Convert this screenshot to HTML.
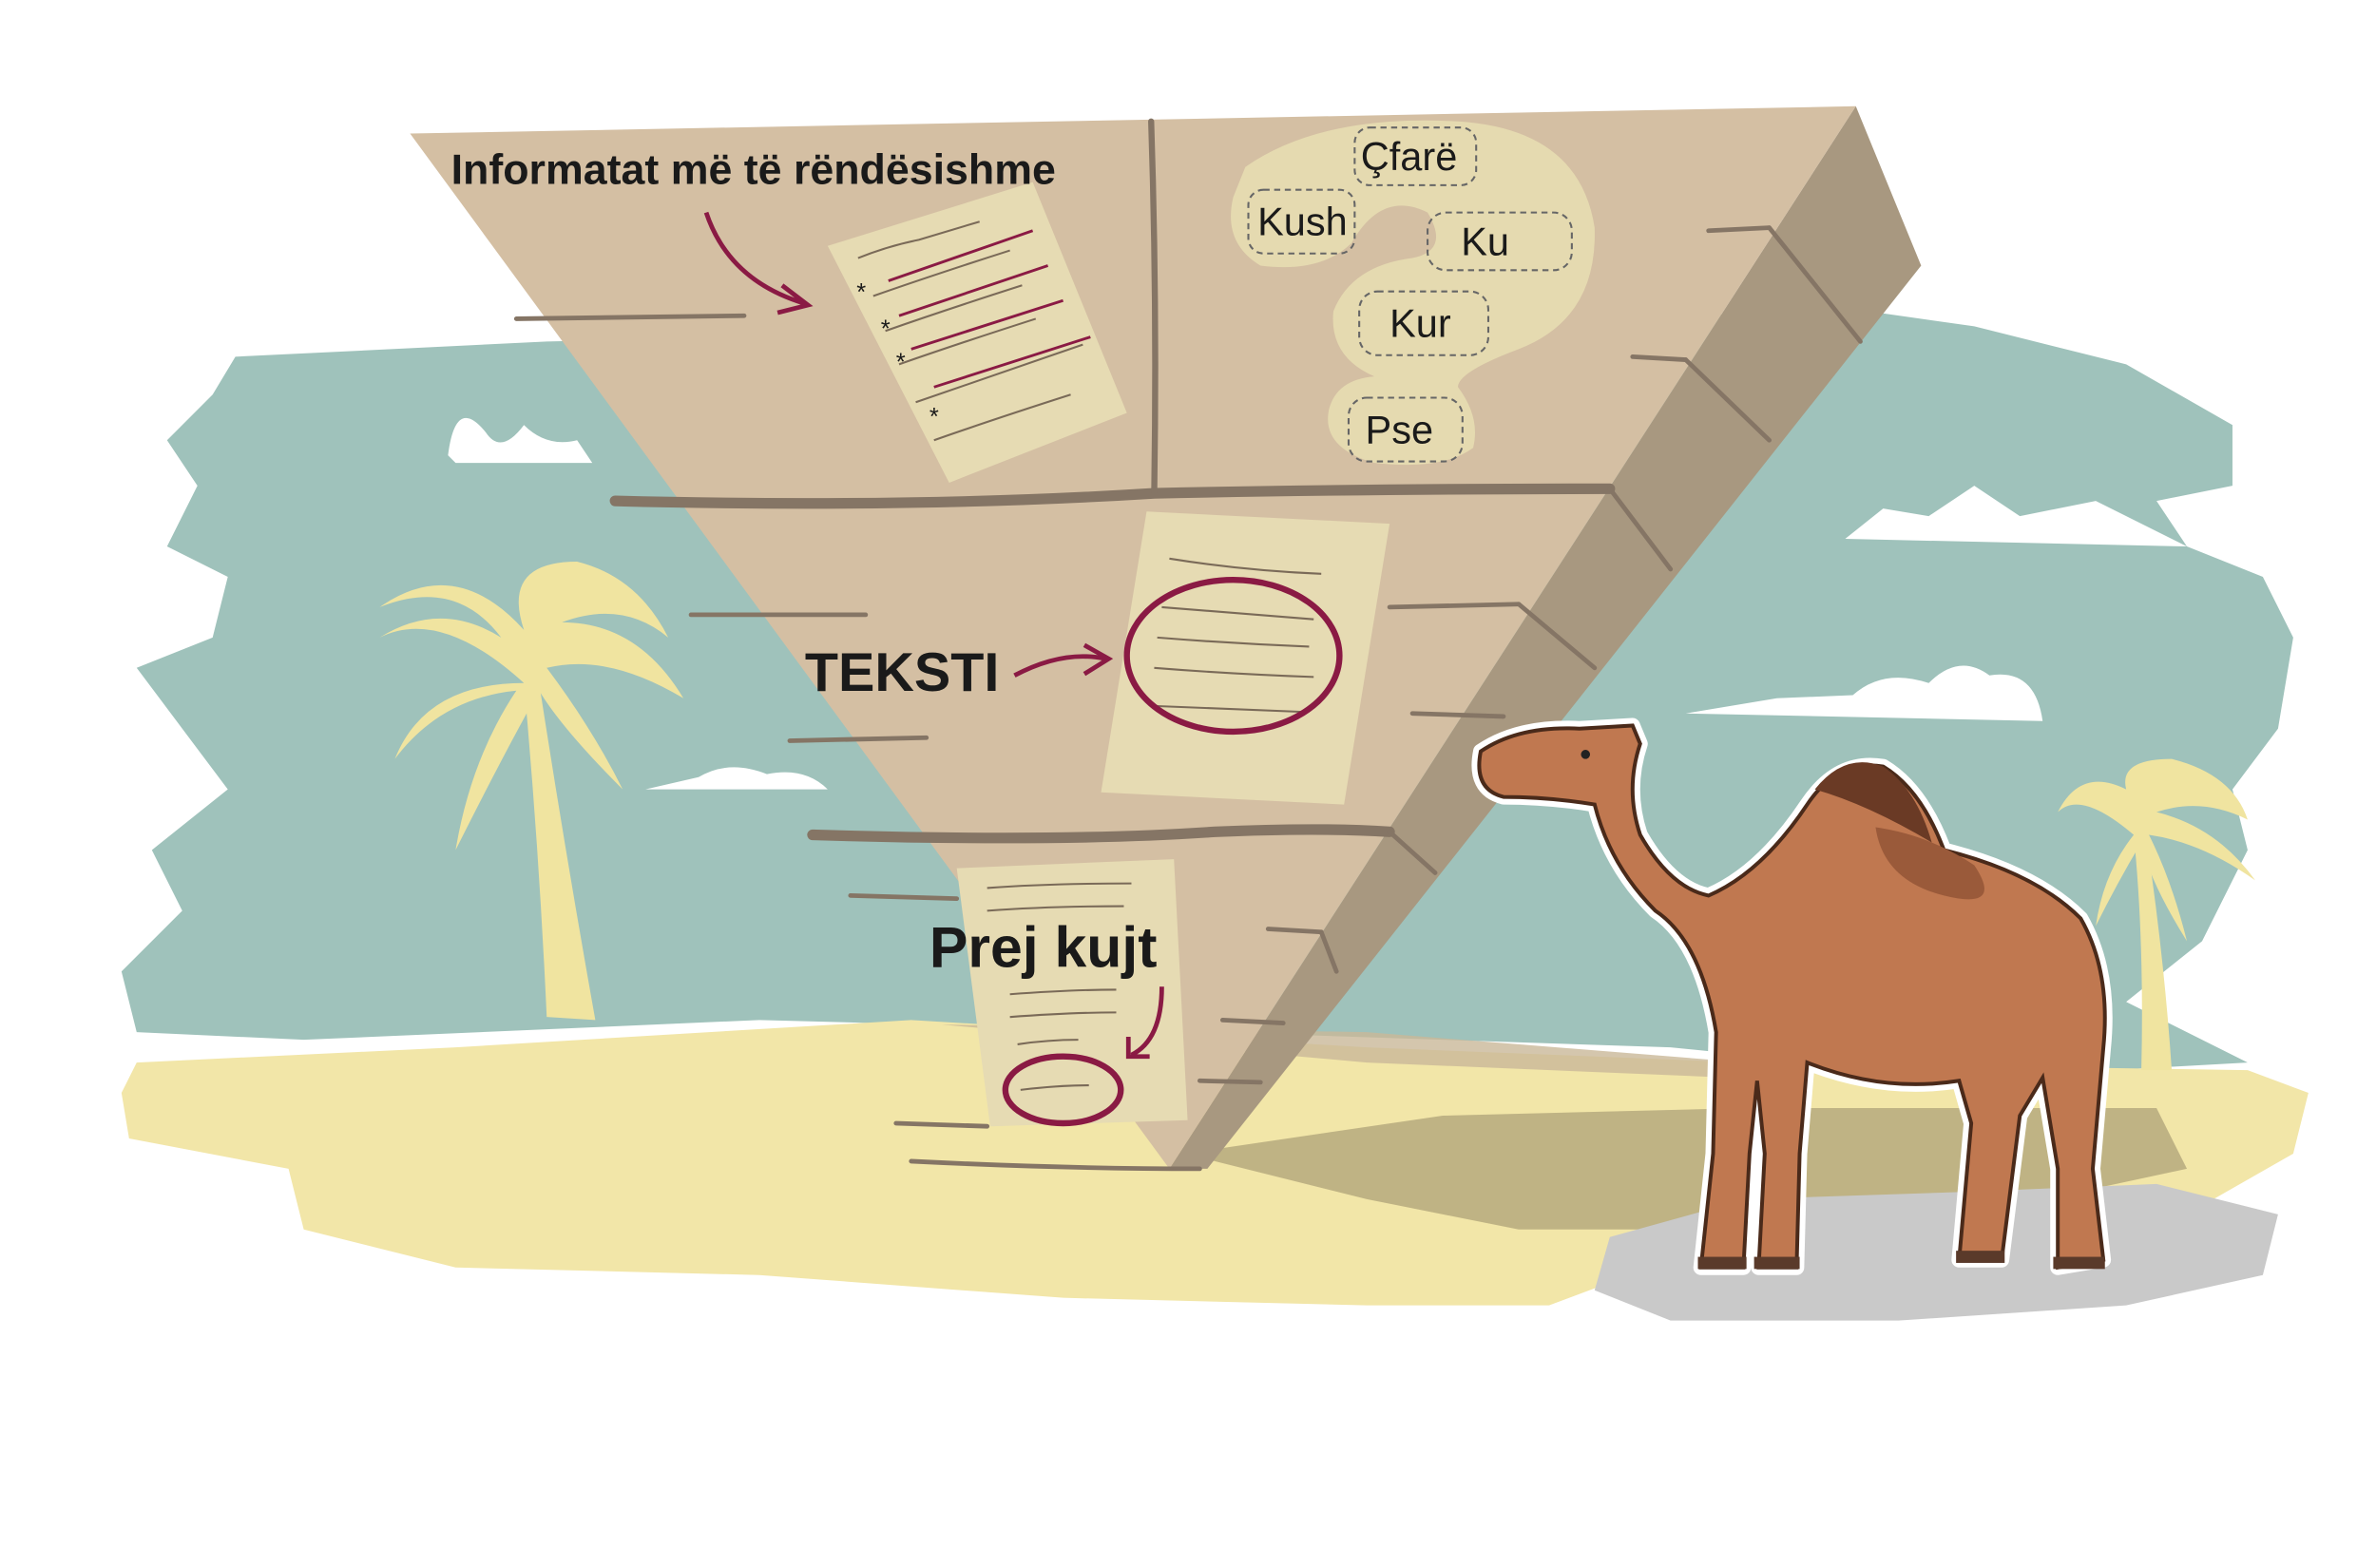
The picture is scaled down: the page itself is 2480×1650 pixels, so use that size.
<!DOCTYPE html>
<html><head><meta charset="utf-8"><style>
html,body{margin:0;padding:0;background:#fff;}
svg{display:block;}
text{font-family:"Liberation Sans",sans-serif;fill:#1a1a1a;}
</style></head><body>
<svg width="2480" height="1650" viewBox="0 0 1552 1033" preserveAspectRatio="none" xmlns="http://www.w3.org/2000/svg">
<rect width="1552" height="1033" fill="#fff"/>
<path d="M155,235 L360,225 L1230,205 L1300,215 L1400,240 L1470,280 L1470,320 L1420,330 L1440,360 L1490,380 L1510,420 L1500,480 L1470,520 L1480,560 L1450,620 L1400,660 L1480,700 L1300,710 L1100,690 L800,680 L500,672 L200,685 L90,680 L80,640 L120,600 L100,560 L150,520 L120,480 L90,440 L140,420 L150,380 L110,360 L130,320 L110,290 L140,260 Z" fill="#9fc2bb"/>
<path d="M295,300 Q300,260 320,285 Q330,300 345,280 Q360,295 380,290 L390,305 L300,305 Z" fill="#fff"/>
<path d="M1215,355 L1440,360 L1380,330 L1330,340 L1300,320 L1270,340 L1240,335 Z" fill="#fff"/>
<path d="M1110,470 L1345,475 Q1340,440 1310,445 Q1290,430 1270,450 Q1240,440 1220,458 L1170,460 Z" fill="#fff"/>
<path d="M425,520 L545,520 Q530,505 505,510 Q480,500 460,512 Z" fill="#fff"/>
<path d="M90,700 L300,690 L600,672 L900,690 L1150,700 L1480,705 L1520,720 L1510,760 L1440,800 L1300,820 L1100,830 L1020,860 L900,860 L700,855 L500,840 L300,835 L200,810 L190,770 L85,750 L80,720 Z" fill="#f2e6a8"/>
<path d="M620,675 L900,680 L1150,700 L1140,710 L900,700 Z" fill="#c9b898" opacity="0.8"/>
<path d="M780,760 L950,735 L1150,730 L1420,730 L1440,770 L1300,800 L1150,810 L1000,810 L900,790 Z" fill="#bfb384"/>
<path d="M1060,815 L1150,790 L1300,785 L1420,780 L1500,800 L1490,840 L1400,860 L1250,870 L1100,870 L1050,850 Z" fill="#c9c9c9"/>
<g fill="#f0e4a0">
<path d="M360,670 Q355,560 345,450 L355,450 Q372,560 392,672 Z"/>
<path d="M345,450 Q290,400 250,420 Q290,395 330,420 Q300,380 250,400 Q300,365 345,415 Q330,370 380,370 Q420,380 440,420 Q410,395 370,410 Q420,410 450,460 Q400,430 360,440 Q390,480 410,520 Q370,480 355,455 Q330,500 300,560 Q310,500 340,455 Q290,460 260,500 Q280,450 345,450 Z"/>
<path d="M1410,705 Q1412,620 1405,550 L1413,550 Q1425,630 1430,705 Z"/>
<path d="M1405,550 Q1370,520 1355,535 Q1370,505 1400,520 Q1395,500 1430,500 Q1470,510 1480,540 Q1450,525 1420,535 Q1460,545 1485,580 Q1450,555 1415,550 Q1430,580 1440,620 Q1415,580 1410,555 Q1395,580 1380,610 Q1385,575 1405,550 Z"/>
</g>
<polygon points="1222,70 1265,175 795,770 770,770" fill="#a89880"/>
<polygon points="270,88 1222,70 770,770" fill="#d4bfa3"/>
<g stroke="#857565" fill="none" stroke-linecap="round">
<path d="M405,330 Q600,335 760,325 Q900,322 1060,322" stroke-width="7"/>
<path d="M535,550 Q700,555 800,548 Q870,545 915,548" stroke-width="7"/>
<path d="M758,80 Q762,200 760,325" stroke-width="4"/>
<path d="M340,210 L490,208" stroke-width="3"/>
<path d="M455,405 L570,405" stroke-width="3"/>
<path d="M520,488 L610,486" stroke-width="3"/>
<path d="M560,590 L630,592" stroke-width="3"/>
<path d="M590,740 L650,742" stroke-width="3"/>
<path d="M600,765 Q700,770 790,770" stroke-width="3"/>
<path d="M1125,152 L1165,150" stroke-width="3"/>
<path d="M1075,235 L1110,237" stroke-width="3"/>
<path d="M915,400 L1000,398" stroke-width="3"/>
<path d="M930,470 L990,472" stroke-width="3"/>
<path d="M835,612 L870,614" stroke-width="3"/>
<path d="M805,672 L845,674" stroke-width="3"/>
<path d="M790,712 L830,713" stroke-width="3"/>
<path d="M1165,150 L1225,225 M1110,237 L1165,290 M1060,322 L1100,375 M1000,398 L1050,440 M915,548 L945,575 M870,614 L880,640" stroke-width="3"/>
</g>
<path d="M820,110 Q870,75 960,80 Q1040,85 1050,150 Q1052,210 1000,230 Q960,245 960,255 Q975,275 970,295 Q950,310 905,305 Q870,295 875,270 Q880,250 905,248 Q875,235 878,205 Q890,175 930,170 Q955,165 940,140 Q910,125 890,160 Q870,180 830,175 Q805,160 812,130 Z" fill="#e5dab0"/>
<g fill="none" stroke="#666" stroke-dasharray="4,3" stroke-width="1.3">
<rect x="822" y="125" width="70" height="42" rx="10"/>
<rect x="892" y="84" width="80" height="38" rx="10"/>
<rect x="940" y="140" width="95" height="38" rx="12"/>
<rect x="895" y="192" width="85" height="42" rx="12"/>
<rect x="888" y="262" width="75" height="42" rx="12"/>
</g>
<text x="828" y="155" font-size="26">Kush</text>
<text x="896" y="112" font-size="26">Çfarë</text>
<text x="962" y="168" font-size="26">Ku</text>
<text x="915" y="222" font-size="26">Kur</text>
<text x="899" y="292" font-size="26">Pse</text>
<polygon points="545,162 680,120 742,272 625,318" fill="#e6dbb3"/>
<g stroke="#7a6a58" stroke-width="1.3" fill="none">
<path d="M565,170 q20,-8 40,-12 q20,-6 40,-12 M575,195 q40,-14 90,-30 M583,218 q40,-14 90,-30 M592,240 q40,-14 90,-30 M603,265 q40,-14 110,-38 M615,290 q40,-14 90,-30"/>
</g>
<g stroke="#8a1a44" stroke-width="1.8" fill="none">
<path d="M585,185 L680,152 M592,208 L690,175 M600,230 L700,198 M615,255 L718,222"/>
</g>
<g fill="#8a1a44" font-size="16"><text x="564" y="198">*</text><text x="580" y="222">*</text><text x="590" y="244">*</text><text x="612" y="280">*</text></g>
<polygon points="755,337 915,345 885,530 725,522" fill="#e6dbb3"/>
<g stroke="#7a6a58" stroke-width="1.3" fill="none">
<path d="M770,368 q50,8 100,10 M765,400 q50,4 100,8 M762,420 q50,4 100,6 M760,440 q50,4 105,6 M758,465 q50,2 100,4"/>
</g>
<ellipse cx="812" cy="432" rx="70" ry="50" fill="none" stroke="#8a1a44" stroke-width="4"/>
<polygon points="630,572 773,566 782,738 652,742" fill="#e6dbb3"/>
<g stroke="#7a6a58" stroke-width="1.3" fill="none">
<path d="M650,585 q40,-3 95,-3 M650,600 q40,-3 90,-3 M665,655 q40,-3 70,-3 M665,670 q40,-3 70,-3 M670,688 q20,-3 40,-3 M672,718 q25,-3 45,-3"/>
</g>
<ellipse cx="700" cy="718" rx="38" ry="22" fill="none" stroke="#8a1a44" stroke-width="4"/>
<g stroke="#8a1a44" stroke-width="3" fill="none">
<path d="M465,140 Q480,185 530,200"/>
<path d="M515,188 L532,201 L512,206"/>
<path d="M668,445 Q700,428 728,434"/>
<path d="M714,425 L730,434 L714,444"/>
<path d="M765,650 Q765,685 745,695"/>
<path d="M743,683 L743,696 L757,696"/>
</g>
<text x="297" y="121" font-size="28" font-weight="bold">Informatat më të rëndësishme</text>
<text x="530" y="455" font-size="36" font-weight="bold">TEKSTI</text>
<text x="612" y="637" font-size="38" font-weight="bold">Prej kujt</text>
<g stroke="#fff" stroke-width="10" stroke-linejoin="round">
<path id="c" d="M975,495 Q1000,478 1040,480 L1075,478 L1080,490 Q1070,520 1080,550 Q1100,585 1125,590 Q1160,575 1190,530 Q1210,500 1240,505 Q1265,520 1280,560 Q1340,575 1370,605 Q1390,640 1385,690 L1378,770 L1385,830 L1355,835 L1355,770 L1345,710 L1330,735 L1318,830 L1290,830 L1298,740 L1290,712 Q1240,720 1190,700 L1185,760 L1183,835 L1158,835 L1162,760 L1157,712 L1152,760 L1148,835 L1120,835 L1128,760 L1130,680 Q1120,620 1090,600 Q1060,570 1050,530 Q1020,525 990,525 Q970,520 975,495 Z" fill="#c07850"/>
</g>
<use href="#c" stroke="#4a2a1a" stroke-width="2.5" fill="#c07850"/>
<path d="M1235,545 Q1270,550 1300,570 Q1320,600 1280,590 Q1240,580 1235,545 Z" fill="#9a5a3a"/>
<path d="M1195,520 Q1215,495 1240,505 Q1262,520 1272,555 Q1230,530 1195,520 Z" fill="#6a3a25"/>
<circle cx="1044" cy="497" r="3" fill="#222"/>
<g fill="#5a3a2a"><rect x="1118" y="828" width="32" height="8"/><rect x="1155" y="828" width="30" height="8"/><rect x="1288" y="824" width="32" height="8"/><rect x="1352" y="828" width="34" height="8"/></g>
</svg>
</body></html>
